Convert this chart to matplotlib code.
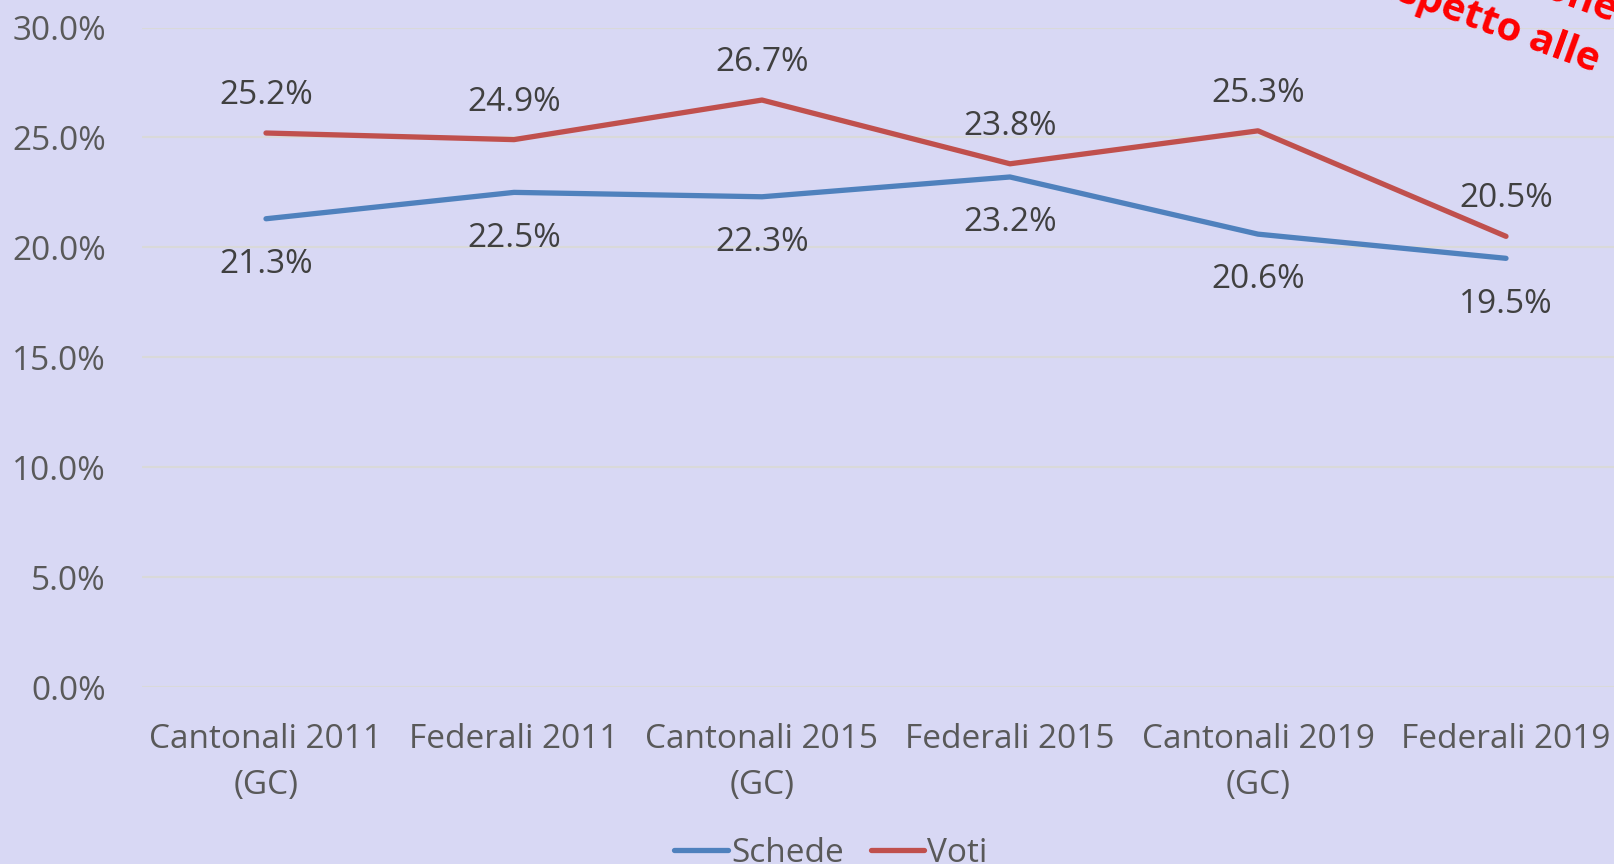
import matplotlib.pyplot as plt
import matplotlib.lines as mlines
from matplotlib.ticker import PercentFormatter

categories = ["Cantonali 2011\n(GC)", "Federali 2011", "Cantonali 2015\n(GC)",
              "Federali 2015", "Cantonali 2019\n(GC)", "Federali 2019"]
schede = [21.3, 22.5, 22.3, 23.2, 20.6, 19.5]
voti = [25.2, 24.9, 26.7, 23.8, 25.3, 20.5]

BG = "#D8D8F4"
BLUE = "#4F81BD"
RED = "#C0504D"
TICK = "#595959"
LABEL = "#404040"

plt.rcParams["font.family"] = ["Open Sans", "DejaVu Sans"]

fig = plt.figure(figsize=(16.15, 8.64), dpi=100, facecolor=BG)
ax = fig.add_axes([142 / 1615, 177 / 864, 1488 / 1615, 659.5 / 864])
ax.set_facecolor(BG)

x = list(range(len(categories)))
ax.plot(x, schede, color=BLUE, lw=3.8, solid_capstyle="round", solid_joinstyle="round", zorder=3)
ax.plot(x, voti, color=RED, lw=3.8, solid_capstyle="round", solid_joinstyle="round", zorder=3)

# data labels: red above, blue below
for i in x:
    ax.annotate(f"{voti[i]:.1f}%", (i, voti[i]), xytext=(0, 27), textcoords="offset points",
                ha="center", va="center", fontsize=24, color=LABEL)
    ax.annotate(f"{schede[i]:.1f}%", (i, schede[i]), xytext=(0, -33), textcoords="offset points",
                ha="center", va="center", fontsize=24, color=LABEL)

ax.set_xlim(-0.5, 5.5)
ax.set_ylim(0, 30)
ax.set_yticks(range(0, 31, 5))
ax.yaxis.set_major_formatter(PercentFormatter(decimals=1))
ax.set_xticks(x)
ax.set_xticklabels(categories, linespacing=1.5)
ax.tick_params(axis="both", length=0, colors=TICK, labelsize=24)
ax.tick_params(axis="y", pad=26)
ax.tick_params(axis="x", pad=26)
ax.grid(axis="y", color="#D9D9D9", lw=1.5)
ax.set_axisbelow(True)
for s in ax.spines.values():
    s.set_visible(False)

# legend at bottom
h1 = mlines.Line2D([], [], color=BLUE, lw=3.8, solid_capstyle="round")
h2 = mlines.Line2D([], [], color=RED, lw=3.8, solid_capstyle="round")
fig.legend([h1, h2], ["Schede", "Voti"], loc="center", bbox_to_anchor=(831 / 1615, 1 - 853 / 864),
           ncol=2, frameon=False, fontsize=24, labelcolor=TICK, handlelength=1.6,
           handletextpad=0.1, columnspacing=0.8)

# rotated red note, cut off at the edges
fig.text(1595 / 1615, 1 - 72 / 864, "rispetto alle", color="red", fontsize=29, fontweight="bold",
         rotation=-20, rotation_mode="anchor", ha="right", va="baseline")
fig.text(1612 / 1615, 1 - 22 / 864, "in diminuzione", color="red", fontsize=29, fontweight="bold",
         rotation=-20, rotation_mode="anchor", ha="right", va="baseline")

fig.savefig("out.png", dpi=100, facecolor=BG)
